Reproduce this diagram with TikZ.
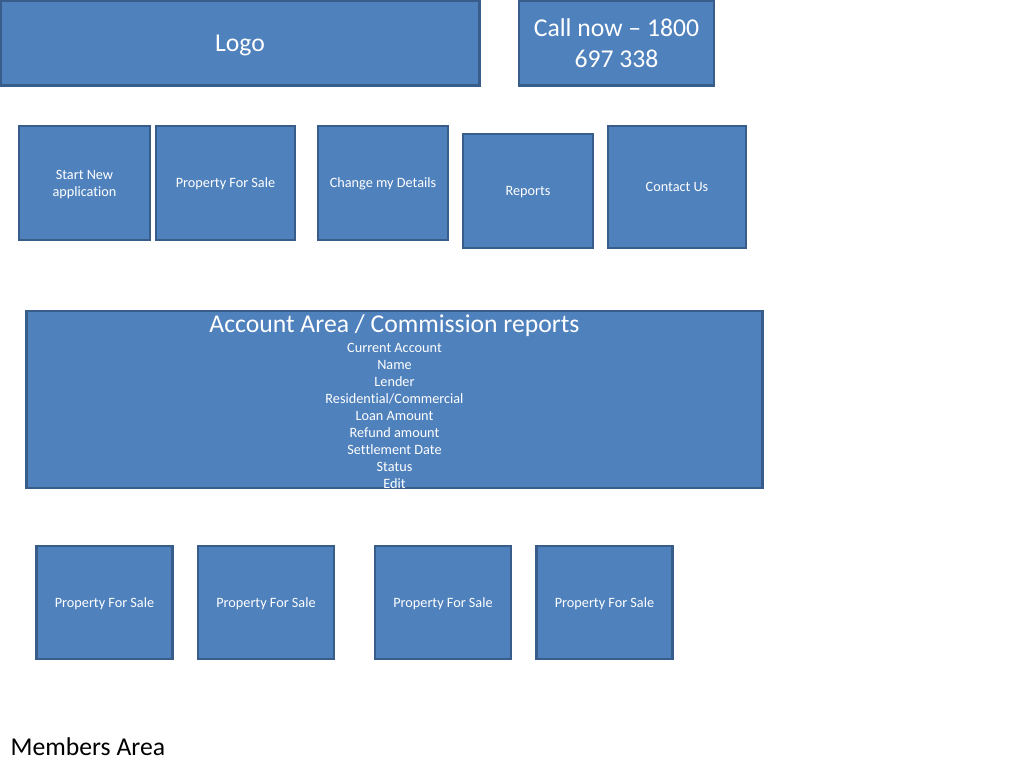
\documentclass[tikz,border=0pt]{standalone}
\usepackage{fontspec}
\setmainfont{Carlito}[Ligatures=NoCommon]
\usetikzlibrary{positioning}
\definecolor{boxfill}{HTML}{4F81BD}
\definecolor{boxline}{HTML}{385D8A}
\newcommand{\bigtext}{\fontsize{7.3}{8.8}\selectfont}
\newcommand{\smalltext}{\fontsize{4.05}{4.86}\selectfont}

\begin{document}
\begin{tikzpicture}[x=0.01cm, y=-0.01cm,
    panel/.style={draw=boxline, fill=boxfill, line width=0.8pt, inner sep=0pt,
      text=white, align=center},
    bigpanel/.style={panel, font=\bigtext},
    smallpanel/.style={panel, font=\smalltext, text depth=0pt, minimum width=1.36cm, minimum height=1.14cm}]
    \useasboundingbox (0,0) rectangle (1024,768);
    % header
    \node[bigpanel, text depth=0pt, minimum width=4.79cm, minimum height=0.85cm] (logo) at (240,43) {Logo};
    \node[bigpanel, minimum width=1.95cm, minimum height=0.85cm] (call) at (616.5,43) {Call now -- 1800\\697 338};
    % menu row
    \node[smallpanel, minimum width=1.31cm] (start) at (84.5,183) {Start New\\application};
    \node[smallpanel, minimum width=1.39cm] (sale) at (225.5,183) {Property For Sale};
    \node[smallpanel, minimum width=1.30cm] (details) at (383,183) {Change my Details};
    \node[smallpanel, minimum width=1.30cm] (reports) at (528,191) {Reports};
    \node[smallpanel, minimum width=1.38cm, minimum height=1.22cm] (contact) at (677,187) {Contact Us};
    % account area
    \node[panel, minimum width=7.35cm, minimum height=1.77cm] (account) at (394.5,399.5) {};
    \node[text=white, align=center, inner sep=0pt, anchor=north, font=\smalltext] (accounttext) at (394.5,314)
      {{\bigtext Account Area / Commission reports}\\[0.7pt]Current Account\\Name\\Lender\\Residential/Commercial\\Loan Amount\\Refund amount\\Settlement Date\\Status\\Edit};
    % listings row
    \node[smallpanel, minimum height=1.13cm] (saleA) at (104.5,602.5) {Property For Sale};
    \node[smallpanel, minimum height=1.13cm] (saleB) at (266,602.5) {Property For Sale};
    \node[smallpanel, minimum height=1.13cm] (saleC) at (443,602.5) {Property For Sale};
    \node[smallpanel, minimum height=1.13cm] (saleD) at (604.5,602.5) {Property For Sale};
    \node[anchor=west, inner sep=0pt, font=\bigtext] (members) at (10,747) {Members Area};
  \end{tikzpicture}
\end{document}
